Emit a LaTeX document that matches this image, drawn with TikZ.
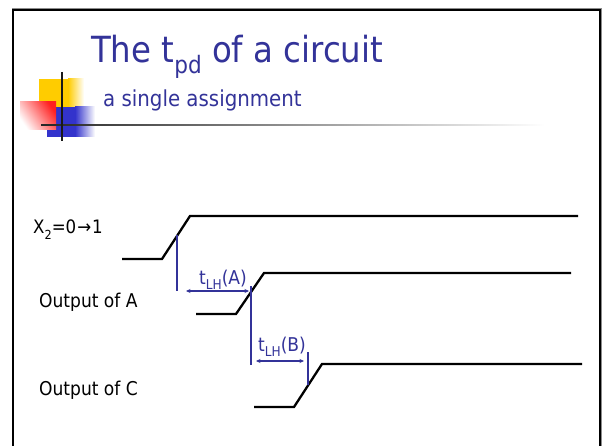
\documentclass[tikz,border=0pt]{standalone}
\usepackage{fontspec}
\setmainfont{DejaVu Sans Condensed}
\usetikzlibrary{arrows.meta}
\definecolor{ttl}{HTML}{333399}
\definecolor{yel}{HTML}{FFCC00}
\definecolor{rd}{HTML}{FF2020}
\definecolor{bl}{HTML}{3333CC}
\tikzset{
  txt/.style={inner sep=0pt, anchor=base west},
  wave/.style={line width=2.3pt, black, line join=miter},
  marker/.style={line width=1.4pt, ttl},
  dim/.style={line width=1.2pt, ttl, {Stealth[length=4.5pt,width=4pt]}-{Stealth[length=4.5pt,width=4pt]}},
}
\newcommand{\sz}[1]{\fontsize{#1}{#1}\selectfont}
\newcommand{\lowsub}[2]{\raisebox{-0.3em}{\sz{#1}#2}}
\begin{document}
\begin{tikzpicture}[x=1pt,y=-1pt]
\useasboundingbox (0,0) rectangle (602,446);
\fill[white] (0,0) rectangle (602,446);
% frame
\draw[line width=1pt, black!45] (12,460) -- (12,8.5) -- (601.5,8.5) -- (601.5,460);
\draw[line width=2pt, black] (13,460) -- (13,10) -- (600,10) -- (600,460);
% decoration squares
\fill[yel] (39,79) rectangle (68,108);
\shade[left color=yel, right color=white] (68,79) rectangle (84,108);
\fill[bl] (47,107) rectangle (75,137);
\shade[left color=bl, right color=white] (75,107) rectangle (95,137);
\shade[shading=axis, top color=rd, bottom color=white, shading angle=-55] (20,102) rectangle (56,130);
% decoration lines
\shade[left color=black!85, right color=white] (41,124.3) rectangle (545,125.8);
\draw[line width=1.3pt, black!90] (62,72) -- (62,141);
% title
\node[txt, text=ttl] (title) at (91,63) {\sz{36}The t\lowsub{24}{pd} of a circuit};
\node[txt, text=ttl] (sub) at (103,107) {\sz{22}a single assignment};
% labels
\node[txt] (lx) at (33,234) {\sz{18.5}X\lowsub{12.5}{2}=0\kern1pt\textrightarrow\kern1pt1};
\node[txt] (la) at (39,307) {\sz{19}Output of A};
\node[txt] (lc) at (39,395) {\sz{19}Output of C};
% waveforms
\coordinate (x0) at (122,259); \coordinate (x1) at (162,259);
\coordinate (x2) at (190,216); \coordinate (x3) at (578,216);
\draw[wave] (x0) -- (x1) -- (x2) -- (x3);
\coordinate (a0) at (196,314); \coordinate (a1) at (236,314);
\coordinate (a2) at (264,273); \coordinate (a3) at (571,273);
\draw[wave] (a0) -- (a1) -- (a2) -- (a3);
\coordinate (c0) at (254,407); \coordinate (c1) at (294,407);
\coordinate (c2) at (322,364); \coordinate (c3) at (582,364);
\draw[wave] (c0) -- (c1) -- (c2) -- (c3);
% markers
\coordinate (m1t) at (177,235); \coordinate (m1b) at (177,291);
\coordinate (m2t) at (251,286); \coordinate (m2b) at (251,365);
\coordinate (m3t) at (308,352); \coordinate (m3b) at (308,385);
\draw[marker] (m1t) -- (m1b);
\draw[marker] (m2t) -- (m2b);
\draw[marker] (m3t) -- (m3b);
\coordinate (d1a) at (186,291); \coordinate (d1b) at (249,291);
\coordinate (d2a) at (256,361); \coordinate (d2b) at (304,361);
\draw[dim] (d1a) -- (d1b);
\draw[dim] (d2a) -- (d2b);
\node[txt, text=ttl] (tA) at (199,284) {\sz{19}t\lowsub{13.5}{LH}(A)};
\node[txt, text=ttl] (tB) at (258,351) {\sz{19}t\lowsub{13.5}{LH}(B)};
\end{tikzpicture}
\end{document}
